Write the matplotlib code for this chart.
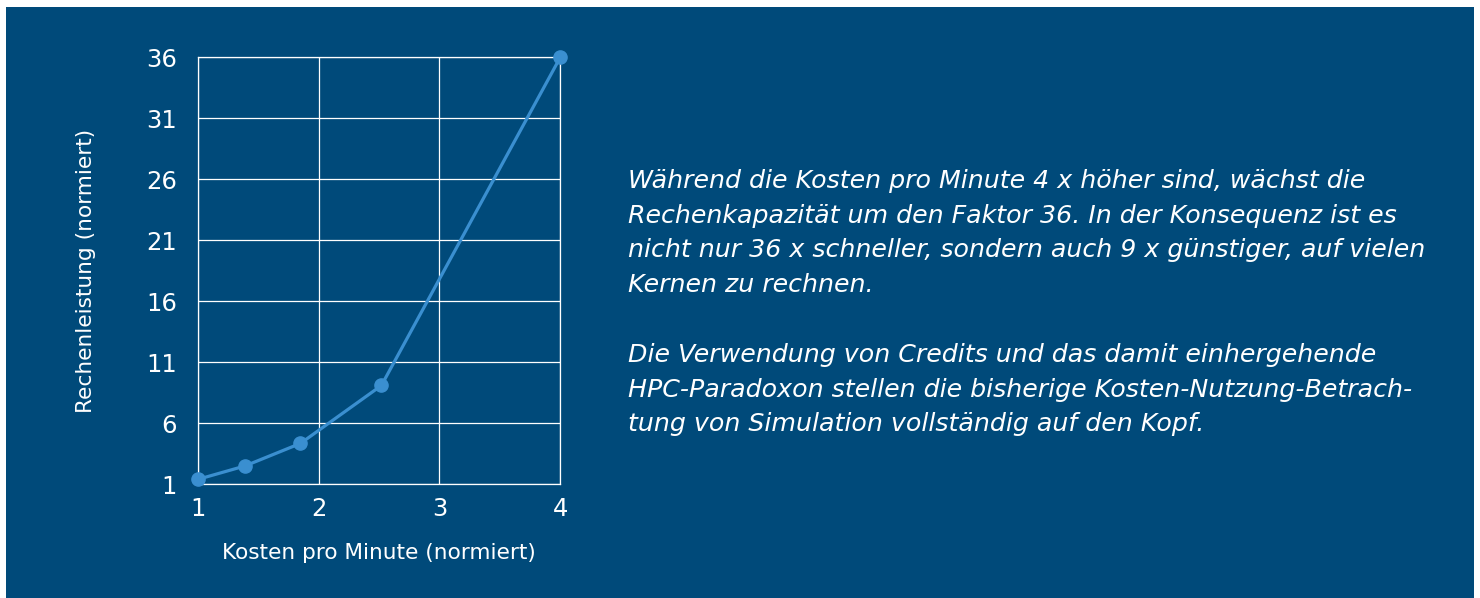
import matplotlib
matplotlib.use("Agg")
import matplotlib.pyplot as plt
from matplotlib.patches import Rectangle

# Data
kosten = [1.0, 1.39, 1.85, 2.52, 4.0]
leistung = [1.4, 2.5, 4.35, 9.1, 36.0]
x_ticks = [1, 2, 3, 4]
y_ticks = [1, 6, 11, 16, 21, 26, 31, 36]
x_label = "Kosten pro Minute (normiert)"
y_label = "Rechenleistung (normiert)"
paragraph1 = ("Während die Kosten pro Minute 4 x höher sind, wächst die\n"
              "Rechenkapazität um den Faktor 36. In der Konsequenz ist es\n"
              "nicht nur 36 x schneller, sondern auch 9 x günstiger, auf vielen\n"
              "Kernen zu rechnen.")
paragraph2 = ("Die Verwendung von Credits und das damit einhergehende\n"
              "HPC-Paradoxon stellen die bisherige Kosten-Nutzung-Betrach-\n"
              "tung von Simulation vollständig auf den Kopf.")

BG = "#004a7a"
LINE = "#3a8fd0"
W, H = 1480, 598

plt.rcParams['font.family'] = ['DejaVu Sans']

fig = plt.figure(figsize=(W / 100, H / 100), dpi=100)
fig.patch.set_facecolor("white")
fig.patches.append(Rectangle((6 / W, 0), (1474 - 6) / W, (H - 7) / H,
                             transform=fig.transFigure, facecolor=BG,
                             edgecolor="none", zorder=-10))

ax = fig.add_axes([197.7 / W, 1 - 484.3 / H, 362.6 / W, 427 / H])
ax.set_zorder(5)
ax.set_facecolor(BG)
ax.plot(kosten, leistung, color=LINE, lw=2.3, marker="o", ms=9.5,
        clip_on=False, zorder=3)
ax.set_xlim(1, 4)
ax.set_ylim(1, 36)
ax.set_xticks(x_ticks)
ax.set_yticks(y_ticks)
ax.grid(True, color="white", lw=0.9)
ax.set_axisbelow(True)
for s in ax.spines.values():
    s.set_color("white")
    s.set_linewidth(0.9)
ax.tick_params(length=0, colors="white", labelsize=17.5)
ax.tick_params(axis="x", pad=9)
ax.tick_params(axis="y", pad=15)
ax.set_xlabel(x_label, color="white", fontsize=15.6, labelpad=16)
ax.set_ylabel(y_label, color="white", fontsize=15.6, labelpad=36)

fig.text(628 / W, 1 - 169 / H, paragraph1, color="white", fontsize=18.2,
         style="italic", va="top", ha="left", linespacing=1.56)
fig.text(628 / W, 1 - 343 / H, paragraph2, color="white", fontsize=18.2,
         style="italic", va="top", ha="left", linespacing=1.56)

fig.savefig("out.png", dpi=100, facecolor=fig.get_facecolor())
